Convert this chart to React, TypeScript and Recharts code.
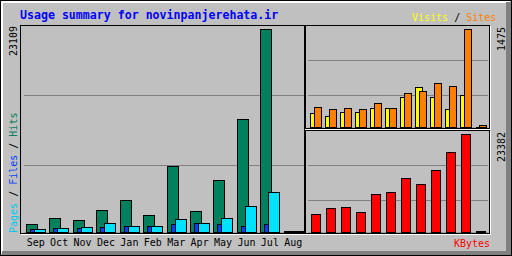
import React from 'react'
import { BarChart, Bar, XAxis, YAxis, CartesianGrid } from 'recharts'

// monthly usage
const months = ['Sep', 'Oct', 'Nov', 'Dec', 'Jan', 'Feb', 'Mar', 'Apr', 'May', 'Jun', 'Jul', 'Aug']
const hits = [990, 1670, 1440, 2570, 3710, 2010, 7600, 2460, 5980, 12930, 23109, 180]
const files = [500, 560, 560, 680, 800, 800, 1020, 1130, 1020, 800, 1020, 170]
const pages = [480, 570, 680, 1130, 800, 800, 1590, 1130, 1700, 3060, 4650, 170]
const visits = [230, 185, 245, 245, 305, 305, 456, 607, 456, 290, 486, 15]
const sites = [320, 290, 305, 290, 381, 305, 516, 546, 667, 622, 1475, 40]
const kbytes = [4530, 5965, 6200, 5010, 9300, 9780, 13120, 11690, 15030, 19090, 23382, 450]

// axis tops and the two grid lines of each panel
const hitsTop = 23562
const hitsGrid = [7646, 15576]
const sitesTop = 1539
const sitesGrid = [486, 1009]
const kbytesTop = 24400
const kbytesGrid = [7699, 15990]

const title = 'Usage summary for novinpanjerehata.ir'

const font = "'DejaVu Sans Mono', monospace"
const grey = '#C0C0C0'

const data = months.map((month, i) => ({
    month,
    hits: hits[i],
    files: files[i],
    pages: pages[i],
    visits: visits[i],
    sites: sites[i],
    kbytes: kbytes[i],
}))

// gd style box: pixel aligned fill with a 1px black outline
const Block = (props: any) => {
    const { x, y, width, height, fill } = props
    const x1 = Math.round(x)
    const x2 = Math.round(x + width) - 1
    const y2 = Math.round(y + height) - 1
    const y1 = Math.min(Math.round(y), y2)
    const d = `M${x1 + 0.5} ${y1 + 0.5}H${x2 + 0.5}V${y2 + 0.5}H${x1 + 0.5}Z`
    return <path d={d} fill={fill} stroke='#000' strokeWidth={1} shapeRendering='crispEdges' />
}

const Panel = ({ x, y, w, h }: { x: number, y: number, w: number, h: number }) => (
    <g shapeRendering='crispEdges' fill='none'>
        <path d={`M${x + 1} ${y + h + 1.5}H${x + w + 1.5}V${y + 1}`} stroke='#fff' />
        <rect x={x + 0.5} y={y + 0.5} width={w} height={h} stroke='#000' />
    </g>
)

const Up = ({ x, y, children }: { x: number, y: number, children: React.ReactNode }) => (
    <text transform={`translate(${x},${y}) rotate(-90)`} fontFamily={font} fontSize={10} fill='#000'>{children}</text>
)

const App = () => {
    return (
        <div style={{ position: 'absolute', left: 0, top: 0, width: 512, height: 256, background: grey, overflow: 'hidden' }}>

            <div style={{ position: 'absolute', left: 20, top: 25 }}>
                <BarChart width={285} height={231} data={data} margin={{ top: 0, right: 0, bottom: 0, left: 4 }}
                    barSize={12} barGap={-8}>
                    <CartesianGrid vertical={false} stroke='#808080' />
                    <XAxis dataKey='month' interval={0} tickLine={false} axisLine={false} height={23} tickMargin={0}
                        tick={{ fontFamily: font, fontSize: 10, fill: '#000' }} />
                    <YAxis hide domain={[0, hitsTop]} ticks={hitsGrid} />
                    <Bar dataKey='hits' fill='#00805C' shape={Block} isAnimationActive={false} />
                    <Bar dataKey='files' fill='#0040FF' shape={Block} isAnimationActive={false} />
                    <Bar dataKey='pages' fill='#00E0FF' shape={Block} isAnimationActive={false} />
                </BarChart>
            </div>

            <div style={{ position: 'absolute', left: 305, top: 25 }}>
                <BarChart width={185} height={103} data={data} margin={{ top: 0, right: 2, bottom: 0, left: 3 }}
                    barSize={8} barGap={-4}>
                    <CartesianGrid vertical={false} stroke='#808080' />
                    <XAxis dataKey='month' hide />
                    <YAxis hide domain={[0, sitesTop]} ticks={sitesGrid} />
                    <Bar dataKey='visits' fill='#FFFF00' shape={Block} isAnimationActive={false} />
                    <Bar dataKey='sites' fill='#FF8000' shape={Block} isAnimationActive={false} />
                </BarChart>
            </div>

            <div style={{ position: 'absolute', left: 305, top: 130 }}>
                <BarChart width={185} height={103} data={data} margin={{ top: 0, right: 2, bottom: 0, left: 3 }}
                    barSize={10}>
                    <CartesianGrid vertical={false} stroke='#808080' />
                    <XAxis dataKey='month' hide />
                    <YAxis hide domain={[0, kbytesTop]} ticks={kbytesGrid} />
                    <Bar dataKey='kbytes' fill='#FF0000' shape={Block} isAnimationActive={false} />
                </BarChart>
            </div>

            <svg width={512} height={256} style={{ position: 'absolute', left: 0, top: 0, pointerEvents: 'none' }}>
                {/* outer bevel */}
                <g shapeRendering='crispEdges' fill='none'>
                    <path d='M1.5 253V1.5H510 M2.5 252V2.5H509' stroke='#fff' />
                    <path d='M2 251.5H510.5 M2 252.5H510.5 M2 253.5H510.5 M2 254.5H510.5' stroke='#808080' />
                    <path d='M506.5 2V255 M507.5 2V255 M508.5 2V255 M509.5 2V255 M510.5 2V255' stroke='#808080' />
                    <rect x={0.5} y={0.5} width={511} height={255} stroke='#000' />
                </g>

                <Panel x={20} y={25} w={284} h={208} />
                <Panel x={305} y={25} w={184} h={103} />
                <Panel x={305} y={130} w={184} h={103} />

                <text x={20} y={19} fontFamily={font} fontSize={11.6} fontWeight='bold' fill='#0000FF'>{title}</text>

                <text x={412} y={20.5} fontFamily={font} fontSize={10}>
                    <tspan fill='#FFFF00'>Visits</tspan>
                    <tspan fill='#000'> / </tspan>
                    <tspan fill='#FF8000'>Sites</tspan>
                </text>

                <text x={454} y={246.5} fontFamily={font} fontSize={10} fill='#FF0000'>KBytes</text>

                <Up x={17} y={56}>{String(Math.max(...hits))}</Up>
                <Up x={504.5} y={51}>{String(Math.max(...sites))}</Up>
                <Up x={504.5} y={162}>{String(Math.max(...kbytes))}</Up>

                <Up x={16.5} y={233}>
                    <tspan fill='#00C8F0'>Pages</tspan>
                    <tspan fill='#000'> / </tspan>
                    <tspan fill='#0040FF'>Files</tspan>
                    <tspan fill='#000'> / </tspan>
                    <tspan fill='#00805C'>Hits</tspan>
                </Up>
            </svg>
        </div>
    )
}

export default App
